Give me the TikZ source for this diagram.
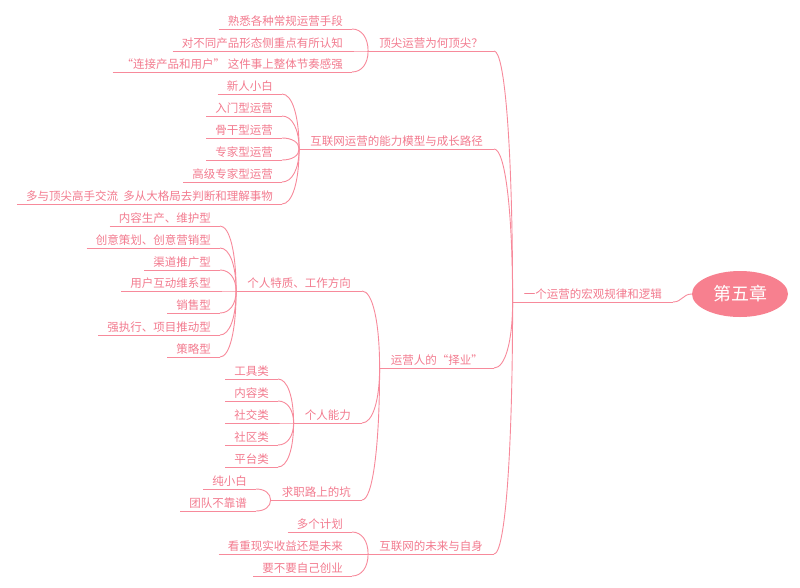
\documentclass[tikz,border=0pt]{standalone}
\usepackage{fontspec}
\setmainfont{Noto Sans CJK SC}
\usetikzlibrary{calc,shapes.geometric}
\definecolor{linec}{HTML}{F78A9B}
\definecolor{txtc}{HTML}{F27A8E}
\definecolor{rootc}{HTML}{F7808F}
\tikzset{
  base/.style={font=\fontsize{11.5}{13}\selectfont, text=txtc, inner ysep=2pt, anchor=south east},
  leaf/.style={base, inner xsep=9pt},
  branch/.style={base, inner xsep=11pt},
  conn/.style={draw=linec, line width=0.9pt},
  rootnode/.style={ellipse, fill=rootc, text=white, minimum width=96pt, minimum height=46pt, inner sep=0pt, font=\fontsize{18}{20}\selectfont}
}
\newcommand\linkto[2]{\draw[conn] (#1.south east) .. controls ($(#1.south east)!0.6!(#2.south west |- #1.south east)$) and ($(#2.south west)!0.6!(#2.south west |- #1.south east)$) .. (#2.south west);}
\begin{document}
\begin{tikzpicture}[x=1pt,y=-1pt]
\useasboundingbox (0,0) rectangle (800,587);
% root
\node[rootnode] (root) at (740,294) {第五章};
\node[branch] (L1) at (673,302) {一个运营的宏观规律和逻辑};
% level 2
\node[branch] (A) at (494,51) {顶尖运营为何顶尖？};
\node[branch] (B) at (494,149) {互联网运营的能力模型与成长路径};
\node[branch] (C) at (494,368) {运营人的“择业”};
\node[branch] (D) at (494,554) {互联网的未来与自身};
% under A
\node[leaf] (A1) at (352,29) {熟悉各种常规运营手段};
\node[leaf] (A2) at (352,51) {对不同产品形态侧重点有所认知};
\node[leaf] (A3) at (352,72) {“连接产品和用户” 这件事上整体节奏感强};
% under B
\node[leaf] (B1) at (282,94) {新人小白};
\node[leaf] (B2) at (282,116) {入门型运营};
\node[leaf] (B3) at (282,138) {骨干型运营};
\node[leaf] (B4) at (282,160) {专家型运营};
\node[leaf] (B5) at (282,182) {高级专家型运营};
\node[leaf] (B6) at (282,204) {多与顶尖高手交流~~多从大格局去判断和理解事物};
% under C
\node[branch] (C1) at (362,291) {个人特质、工作方向};
\node[branch] (C2) at (362,423) {个人能力};
\node[branch] (C3) at (362,500) {求职路上的坑};
% under C1
\node[leaf] (C11) at (220,226) {内容生产、维护型};
\node[leaf] (C12) at (220,248) {创意策划、创意营销型};
\node[leaf] (C13) at (220,270) {渠道推广型};
\node[leaf] (C14) at (220,291) {用户互动维系型};
\node[leaf] (C15) at (220,313) {销售型};
\node[leaf] (C16) at (220,335) {强执行、项目推动型};
\node[leaf] (C17) at (220,357) {策略型};
% under C2
\node[leaf] (C21) at (278,379) {工具类};
\node[leaf] (C22) at (278,401) {内容类};
\node[leaf] (C23) at (278,423) {社交类};
\node[leaf] (C24) at (278,445) {社区类};
\node[leaf] (C25) at (278,467) {平台类};
% under C3
\node[leaf] (C31) at (256,489) {纯小白};
\node[leaf] (C32) at (256,511) {团队不靠谱};
% under D
\node[leaf] (D1) at (352,532) {多个计划};
\node[leaf] (D2) at (352,554) {看重现实收益还是未来};
\node[leaf] (D3) at (352,576) {要不要自己创业};
% underlines
\foreach \n in {L1,A,B,C,D,A1,A2,A3,B1,B2,B3,B4,B5,B6,C1,C2,C3,C11,C12,C13,C14,C15,C16,C17,C21,C22,C23,C24,C25,C31,C32,D1,D2,D3}
  \draw[conn] (\n.south west) -- (\n.south east);
% connectors
\draw[conn] (L1.south east) .. controls +(9,0) and +(-9,0) .. (root.west);
\foreach \c in {A,B,C,D} {\linkto{\c}{L1}}
\foreach \c in {A1,A2,A3} {\linkto{\c}{A}}
\foreach \c in {B1,B2,B3,B4,B5,B6} {\linkto{\c}{B}}
\foreach \c in {C1,C2,C3} {\linkto{\c}{C}}
\foreach \c in {C11,C12,C13,C14,C15,C16,C17} {\linkto{\c}{C1}}
\foreach \c in {C21,C22,C23,C24,C25} {\linkto{\c}{C2}}
\foreach \c in {C31,C32} {\linkto{\c}{C3}}
\foreach \c in {D1,D2,D3} {\linkto{\c}{D}}
\end{tikzpicture}
\end{document}
